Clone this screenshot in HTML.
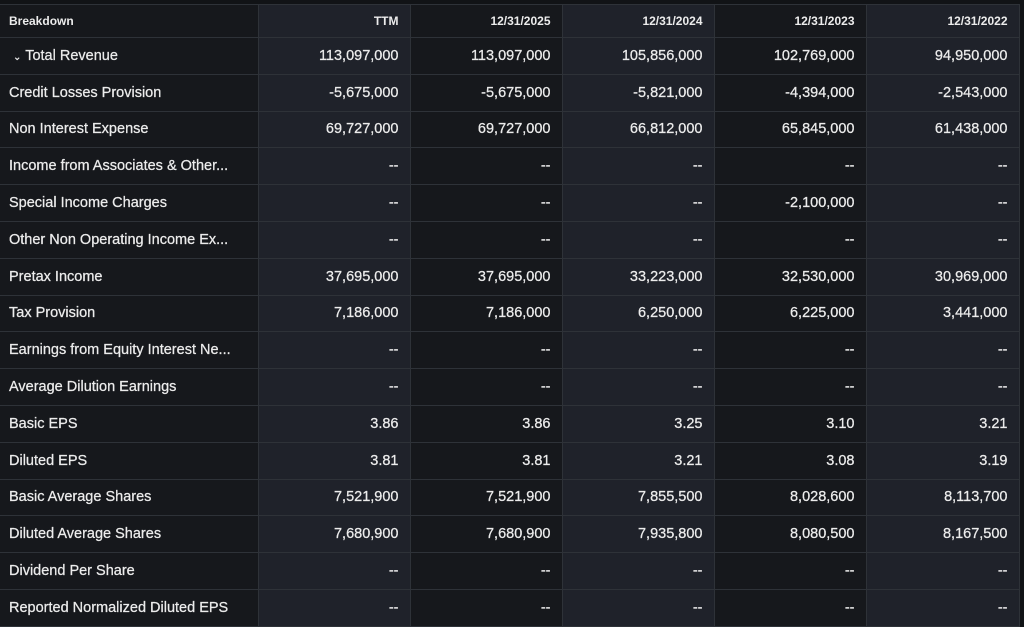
<!DOCTYPE html>
<html><head><style>
body{margin:0;background:#111316;width:1024px;height:626px;overflow:hidden;font-family:"Liberation Sans",Arial,sans-serif;}
table{position:absolute;left:0;top:4px;border-collapse:collapse;table-layout:fixed;width:1019px;}
td{border:1px solid #2e3238;height:36.8px;padding:0 11px 0 9px;color:#ececec;font-size:14.5px;white-space:nowrap;overflow:hidden;text-align:right;box-sizing:border-box;-webkit-text-stroke:0.25px #ececec;}
td:first-child{text-align:left;border-left:none;}
tr td:nth-child(odd){background:#16181c;}
tr td:nth-child(even){background:#1f222a;}
tr:first-child td{height:33px;font-weight:bold;font-size:12px;-webkit-text-stroke:0;}
tr:first-child td{border-top:1px solid #2e3238;}
</style></head><body>
<table>
<colgroup><col style="width:258px"><col style="width:152px"><col style="width:152px"><col style="width:152px"><col style="width:152px"><col style="width:153px"></colgroup>
<tr><td>Breakdown</td><td>TTM</td><td>12/31/2025</td><td>12/31/2024</td><td>12/31/2023</td><td>12/31/2022</td></tr>
<tr><td>&nbsp;<span style="font-size:10px">&#8964;</span> Total Revenue</td><td>113,097,000</td><td>113,097,000</td><td>105,856,000</td><td>102,769,000</td><td>94,950,000</td></tr>
<tr><td>Credit Losses Provision</td><td>-5,675,000</td><td>-5,675,000</td><td>-5,821,000</td><td>-4,394,000</td><td>-2,543,000</td></tr>
<tr><td>Non Interest Expense</td><td>69,727,000</td><td>69,727,000</td><td>66,812,000</td><td>65,845,000</td><td>61,438,000</td></tr>
<tr><td>Income from Associates &amp; Other...</td><td>--</td><td>--</td><td>--</td><td>--</td><td>--</td></tr>
<tr><td>Special Income Charges</td><td>--</td><td>--</td><td>--</td><td>-2,100,000</td><td>--</td></tr>
<tr><td>Other Non Operating Income Ex...</td><td>--</td><td>--</td><td>--</td><td>--</td><td>--</td></tr>
<tr><td>Pretax Income</td><td>37,695,000</td><td>37,695,000</td><td>33,223,000</td><td>32,530,000</td><td>30,969,000</td></tr>
<tr><td>Tax Provision</td><td>7,186,000</td><td>7,186,000</td><td>6,250,000</td><td>6,225,000</td><td>3,441,000</td></tr>
<tr><td>Earnings from Equity Interest Ne...</td><td>--</td><td>--</td><td>--</td><td>--</td><td>--</td></tr>
<tr><td>Average Dilution Earnings</td><td>--</td><td>--</td><td>--</td><td>--</td><td>--</td></tr>
<tr><td>Basic EPS</td><td>3.86</td><td>3.86</td><td>3.25</td><td>3.10</td><td>3.21</td></tr>
<tr><td>Diluted EPS</td><td>3.81</td><td>3.81</td><td>3.21</td><td>3.08</td><td>3.19</td></tr>
<tr><td>Basic Average Shares</td><td>7,521,900</td><td>7,521,900</td><td>7,855,500</td><td>8,028,600</td><td>8,113,700</td></tr>
<tr><td>Diluted Average Shares</td><td>7,680,900</td><td>7,680,900</td><td>7,935,800</td><td>8,080,500</td><td>8,167,500</td></tr>
<tr><td>Dividend Per Share</td><td>--</td><td>--</td><td>--</td><td>--</td><td>--</td></tr>
<tr><td>Reported Normalized Diluted EPS</td><td>--</td><td>--</td><td>--</td><td>--</td><td>--</td></tr>
</table>
</body></html>
